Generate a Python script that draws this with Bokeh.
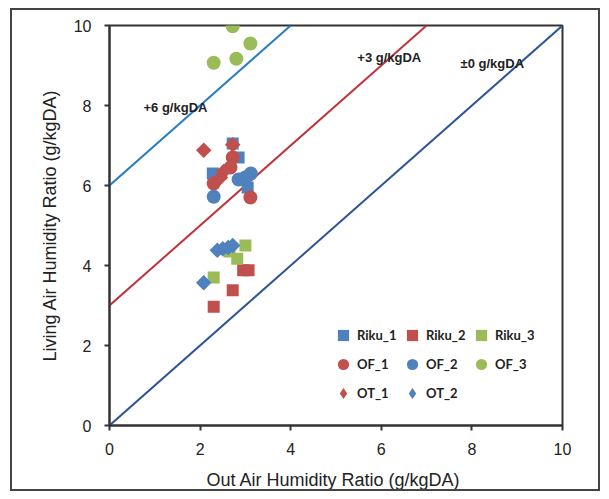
import math
from bokeh.plotting import figure
from bokeh.models import Range1d, Label, Legend, LegendItem, FixedTicker, ColumnDataSource
from bokeh.embed import file_html
from bokeh.resources import INLINE

# ---- data ----
riku1_x = [2.72, 2.85, 2.28, 3.05]
riku1_y = [7.05, 6.70, 6.30, 5.95]
riku2_x = [2.95, 3.07, 2.72, 2.30]
riku2_y = [3.88, 3.88, 3.38, 2.97]
riku3_x = [3.00, 2.82, 2.65, 2.30]
riku3_y = [4.50, 4.17, 4.35, 3.70]
of1_x = [2.72, 2.67, 2.30, 3.11]
of1_y = [6.70, 6.45, 6.05, 5.70]
of2_x = [2.30, 2.85, 3.00, 3.12]
of2_y = [5.72, 6.15, 6.20, 6.30]
of3_x = [2.72, 3.11, 2.80, 2.30]
of3_y = [9.98, 9.55, 9.17, 9.07]
ot1_x = [2.08, 2.72, 2.52, 2.45]
ot1_y = [6.88, 7.02, 6.35, 6.20]
ot2_x = [2.38, 2.50, 2.72, 2.62, 2.08]
ot2_y = [4.38, 4.42, 4.50, 4.45, 3.57]

offsets = [6, 3, 0]
offset_labels = ["+6 g/kgDA", "+3 g/kgDA", "\u00b10 g/kgDA"]
label_x = [0.75, 5.47, 7.75]
label_y = [7.95, 9.20, 9.05]
ticks = [0, 2, 4, 6, 8, 10]

BLUE = "#4F81BD"
RED = "#C0504D"
GREEN = "#9BBB59"
line_colors = ["#2A7DC4", "#C0333A", "#2F5597"]

p = figure(width=590, height=483, output_backend="svg", toolbar_location=None,
           x_range=Range1d(0, 10), y_range=Range1d(0, 10),
           min_border_left=97, min_border_right=40, min_border_top=15, min_border_bottom=68,
           background_fill_color="white", border_fill_color="white",
           margin=(8, 0, 0, 10), styles={"border": "2px solid #444"})
p.grid.visible = False
p.outline_line_color = "#333333"
p.outline_line_width = 2

for ax in (p.xaxis[0], p.yaxis[0]):
    ax.ticker = FixedTicker(ticks=ticks)
    ax.axis_line_width = 2
    ax.axis_line_color = "#333333"
    ax.major_tick_line_width = 2
    ax.major_tick_line_color = "#333333"
    ax.major_tick_out = 5
    ax.major_tick_in = 0
    ax.minor_tick_line_color = None
    ax.major_label_text_font = "Liberation Sans"
    ax.major_label_text_font_size = "16px"
    ax.major_label_text_color = "#222222"
    ax.axis_label_text_font = "Liberation Sans"
    ax.axis_label_text_font_size = "18px"
    ax.axis_label_text_font_style = "normal"
    ax.axis_label_text_color = "#222222"

p.xaxis.axis_label = "Out  Air Humidity Ratio (g/kgDA)"
p.yaxis.axis_label = "Living Air Humidity Ratio (g/kgDA)"
p.xaxis.major_label_standoff = 12
p.yaxis.major_label_standoff = 13
p.xaxis.axis_label_standoff = 12
p.yaxis.axis_label_standoff = 11

# reference lines
for off, col in zip(offsets, line_colors):
    xs = [0, 10 - off]
    ys = [x + off for x in xs]
    p.line(xs, ys, line_color=col, line_width=2)

for t, lx, ly in zip(offset_labels, label_x, label_y):
    p.add_layout(Label(x=lx, y=ly, text=t, text_font="Liberation Sans", text_font_size="13px",
                       text_font_style="bold", text_color="#222222", text_baseline="middle",
                       text_align="left"))

items = []
def add(kind, xs, ys, color, name, size, angle=0.0):
    src = ColumnDataSource(dict(x=xs, y=ys))
    r = p.scatter("x", "y", source=src, marker=kind, size=size, fill_color=color,
                  line_color=color, line_width=0, angle=angle)
    rs = [r]
    if angle:
        # legend swatch only: a diamond marker with no visible position
        lr = p.scatter(x=[float("nan")], y=[float("nan")], marker="diamond", size=size,
                       fill_color=color, line_color=color, line_width=0)
        rs = [lr]
    items.append(LegendItem(label=name, renderers=rs))

add("square", riku1_x, riku1_y, BLUE, "Riku_1", 12)
add("square", riku2_x, riku2_y, RED, "Riku_2", 12)
add("square", riku3_x, riku3_y, GREEN, "Riku_3", 12)
add("circle", of1_x, of1_y, RED, "OF_1", 14)
add("circle", of2_x, of2_y, BLUE, "OF_2", 14)
add("circle", of3_x, of3_y, GREEN, "OF_3", 14)
add("square", ot1_x, ot1_y, RED, "OT_1", 11, math.pi / 4)
add("square", ot2_x, ot2_y, BLUE, "OT_2", 11, math.pi / 4)

legend = Legend(items=items, location=(220, 18), orientation="horizontal", ncols=3,
                glyph_width=28, glyph_height=28, label_height=28, label_width=40,
                label_standoff=-2, spacing=1, padding=0, margin=0,
                border_line_color=None, background_fill_alpha=0,
                label_text_font="Lato", label_text_font_style="bold",
                label_text_font_size="13px", label_text_color="#222222")
p.add_layout(legend)

open("out.html", "w").write(file_html(p, INLINE))
